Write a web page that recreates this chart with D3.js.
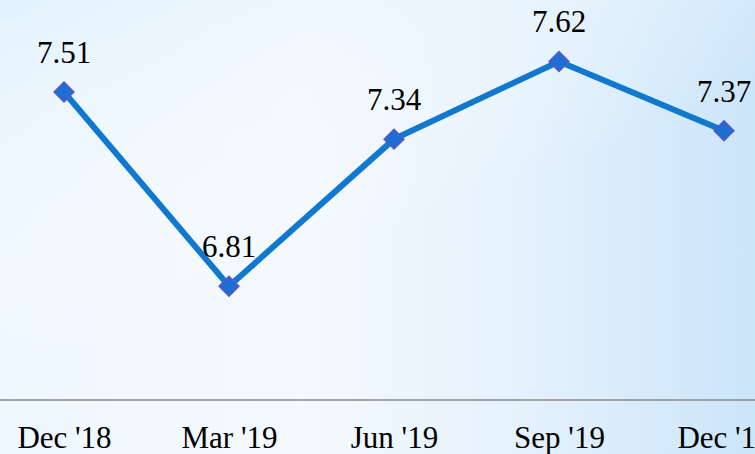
<!DOCTYPE html>
<html>
<head>
<meta charset="utf-8">
<script src="https://cdn.jsdelivr.net/npm/d3@7"></script>
<style>
  html, body { margin: 0; padding: 0; overflow: hidden; }
  svg { display: block; }
  svg text { font-family: "Liberation Serif", "Times New Roman", Times, serif; }
</style>
</head>
<body>
<svg width="755" height="454"></svg>
<script>
const svg = d3.select("svg");
const width = +svg.attr("width");
const height = +svg.attr("height");

// Chart data
const quarters = ["Dec '18", "Mar '19", "Jun '19", "Sep '19", "Dec '19"];
const values = [7.51, 6.81, 7.34, 7.62, 7.37];

const serif = "'Liberation Serif', 'Times New Roman', Times, serif";

// Background gradient
const defs = svg.append("defs");
const bg = defs.append("linearGradient")
    .attr("id", "bg")
    .attr("x1", "0%").attr("y1", "0%")
    .attr("x2", "100%").attr("y2", "0%");
bg.append("stop").attr("offset", "0%").attr("stop-color", "#eef7fe");
bg.append("stop").attr("offset", "40%").attr("stop-color", "#f4f9fe");
bg.append("stop").attr("offset", "70%").attr("stop-color", "#e4f1fc");
bg.append("stop").attr("offset", "100%").attr("stop-color", "#cbe5f9");

const glow = defs.append("linearGradient")
    .attr("id", "glow")
    .attr("x1", "0%").attr("y1", "0%")
    .attr("x2", "40%").attr("y2", "60%");
glow.append("stop").attr("offset", "0%").attr("stop-color", "#dff0fd").attr("stop-opacity", 0.8);
glow.append("stop").attr("offset", "100%").attr("stop-color", "#ffffff").attr("stop-opacity", 0);

svg.append("rect").attr("width", width).attr("height", height).attr("fill", "url(#bg)");
svg.append("rect").attr("width", width).attr("height", height).attr("fill", "url(#glow)");

const xScale = d3.scalePoint()
    .domain(quarters)
    .range([64, 724]);

const yScale = d3.scaleLinear()
    .domain([6.4, 7.8])
    .range([400, 11.5]);

// x axis line and labels
const xAxis = svg.append("g")
    .attr("transform", "translate(0,400)")
    .call(d3.axisBottom(xScale).tickSize(0).tickPadding(16));
xAxis.attr("font-family", null).attr("font-size", null);
xAxis.select(".domain").remove();
xAxis.append("line")
    .attr("x1", 0).attr("x2", width)
    .attr("stroke", "#8a8a8a")
    .attr("stroke-width", 1.6);
xAxis.selectAll(".tick text")
    .attr("fill", "#000")
    .style("font-family", serif)
    .style("font-size", "31px")
    .attr("dy", null)
    .attr("y", 48);

const points = quarters.map((q, i) => ({ q, v: values[i] }));

// line
svg.append("path")
    .datum(points)
    .attr("fill", "none")
    .attr("stroke", "#1078cf")
    .attr("stroke-width", 6)
    .attr("d", d3.line().x(d => xScale(d.q)).y(d => yScale(d.v)));

// diamond markers
svg.selectAll(".marker").data(points)
    .enter().append("rect")
    .attr("class", "marker")
    .attr("x", -7).attr("y", -7)
    .attr("width", 14).attr("height", 14)
    .attr("transform", d => `translate(${xScale(d.q)},${yScale(d.v)}) rotate(45)`)
    .attr("fill", "#1c6fd0")
    .attr("stroke", "#5a56c9")
    .attr("stroke-width", 1.5);

// value labels
svg.selectAll(".label").data(points)
    .enter().append("text")
    .attr("class", "label")
    .attr("x", d => xScale(d.q))
    .attr("y", d => yScale(d.v) - 29)
    .attr("text-anchor", "middle")
    .style("font-family", serif)
    .style("font-size", "31px")
    .attr("fill", "#000")
    .text(d => d.v.toFixed(2));
</script>
</body>
</html>
